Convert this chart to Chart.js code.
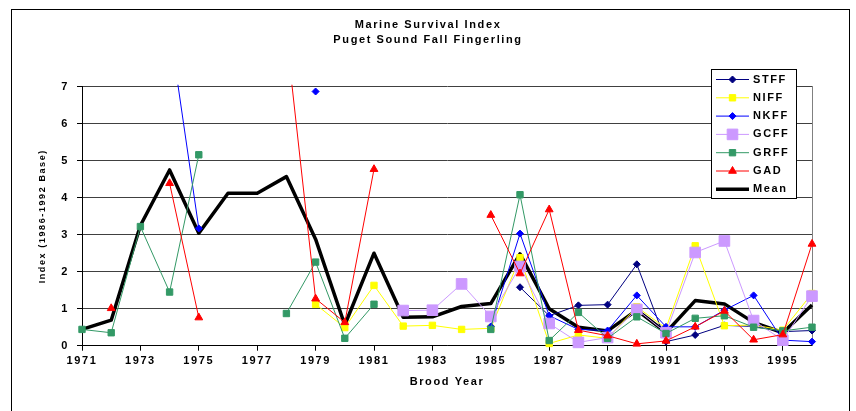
<!DOCTYPE html>
<html>
<head>
<meta charset="utf-8">
<title>Marine Survival Index</title>
<script src="https://cdn.jsdelivr.net/npm/chart.js@4/dist/chart.umd.min.js"></script>
<style>
body { margin: 0; background: #fff; }
canvas { display: block; }
</style>
</head>
<body>
<canvas id="chart" width="856" height="411"></canvas>
<script>
var years = ["1971","1972","1973","1974","1975","1976","1977","1978","1979","1980","1981","1982","1983",
             "1984","1985","1986","1987","1988","1989","1990","1991","1992","1993","1994","1995","1996"];
var xTickLabels = ["1971","1973","1975","1977","1979","1981","1983","1985","1987","1989","1991","1993","1995"];
var yTicks = [0, 1, 2, 3, 4, 5, 6, 7];
var titleLines = ["Marine Survival Index", "Puget Sound Fall Fingerling"];

var stff = [null,null,null,null,null,null,null,null,null,null,null,null,null,null,null,
            1.58,0.81,1.09,1.11,2.2,0.11,0.29,0.55,0.52,0.38,0.41];
var niff = [null,null,null,null,null,null,null,null,
            1.12,0.49,1.63,0.53,0.55,0.44,0.47,2.38,0.06,0.29,0.2,1.05,0.47,2.7,0.54,0.56,0.42,1.41];
var nkff = [null,null,null,8.6,3.17,null,null,null,6.87,null,null,null,null,null,
            0.52,3.03,0.81,0.44,0.41,1.36,0.51,0.51,0.96,1.36,0.15,0.11];
var gcff = [null,null,null,null,null,null,null,null,null,null,null,
            0.95,0.96,1.67,0.79,2.14,0.6,0.09,0.22,0.98,0.35,2.52,2.83,0.68,0.15,1.34];
var grff = [0.44,0.35,3.22,1.45,5.16,null,null,0.87,2.26,0.2,1.12,null,null,null,
            0.44,4.08,0.14,0.9,0.2,0.78,0.33,0.74,0.81,0.5,0.4,0.5];
var gad  = [null,1.01,null,4.39,0.76,null,null,8.4,1.27,0.63,4.77,null,null,null,
            3.53,1.95,3.68,0.42,0.27,0.05,0.13,0.51,0.94,0.16,0.3,2.75];
var mean = [0.44,0.69,3.25,4.75,3.04,4.12,4.12,4.57,2.88,0.56,2.5,0.77,0.78,1.06,1.14,
            2.48,1.0,0.5,0.4,0.96,0.36,1.22,1.13,0.63,0.35,1.1];

var font = "Arial, 'Liberation Sans', sans-serif";
var spacing = "1.6px";
Chart.defaults.font.family = font;
Chart.defaults.color = "#000";

function series(label, data, color, style, radius, order) {
  return {
    label: label,
    data: data,
    borderColor: color,
    borderWidth: 1,
    pointStyle: style,
    pointRadius: radius,
    pointBackgroundColor: color,
    pointBorderColor: color,
    pointBorderWidth: 1,
    tension: 0,
    spanGaps: false,
    clip: {left: 12, top: 2, right: 12, bottom: 12},
    order: order
  };
}

// same shapes as chart.js uses for its points, for the legend box
function marker(ctx, style, r, x, y) {
  ctx.beginPath();
  if (style == "rect") {
    var s = r * Math.SQRT1_2;
    ctx.rect(x - s, y - s, 2 * s, 2 * s);
  } else if (style == "rectRot") {
    ctx.moveTo(x - r, y); ctx.lineTo(x, y - r); ctx.lineTo(x + r, y); ctx.lineTo(x, y + r);
    ctx.closePath();
  } else if (style == "triangle") {
    for (var k = 0; k < 3; k++) {
      var a = k * 2 * Math.PI / 3;
      if (k == 0) ctx.moveTo(x + Math.sin(a) * r, y - Math.cos(a) * r);
      else ctx.lineTo(x + Math.sin(a) * r, y - Math.cos(a) * r);
    }
    ctx.closePath();
  }
  ctx.fill();
  ctx.stroke();
}

var frame = {
  id: "frame",
  beforeDraw: function(chart) {
    var ctx = chart.ctx;
    ctx.save();
    ctx.fillStyle = "#fff";
    ctx.fillRect(0, 0, chart.width, chart.height);
    ctx.strokeStyle = "#000";
    ctx.lineWidth = 1;
    ctx.strokeRect(11.5, 9.5, 838, 440);
    ctx.restore();
    ctx.letterSpacing = spacing;
  },
  afterDraw: function(chart) {
    var ctx = chart.ctx;
    ctx.save();
    ctx.letterSpacing = spacing;
    ctx.fillStyle = "#fff";
    ctx.strokeStyle = "#000";
    ctx.lineWidth = 1;
    ctx.fillRect(711.5, 69.5, 85, 129);
    ctx.strokeRect(711.5, 69.5, 85, 129);
    chart.data.datasets.forEach(function(ds, i) {
      var y = 79.5 + i * 18.3;
      ctx.strokeStyle = ds.borderColor;
      ctx.lineWidth = ds.borderWidth;
      ctx.beginPath();
      ctx.moveTo(716, y);
      ctx.lineTo(749, y);
      ctx.stroke();
      if (ds.pointRadius > 0) {
        ctx.fillStyle = ds.pointBackgroundColor;
        ctx.strokeStyle = ds.pointBorderColor;
        ctx.lineWidth = 1;
        marker(ctx, ds.pointStyle, ds.pointRadius, 732.5, y);
      }
      ctx.fillStyle = "#000";
      ctx.font = "bold 11px " + font;
      ctx.textAlign = "left";
      ctx.textBaseline = "middle";
      ctx.fillText(ds.label, 753, y);
    });
    ctx.restore();
  }
};

var meanSet = series("Mean", mean, "#000000", "circle", 0, 7);
meanSet.borderWidth = 3.5;
meanSet.borderJoinStyle = "round";

new Chart(document.getElementById("chart"), {
  type: "line",
  data: {
    labels: years,
    datasets: [
      series("STFF", stff, "#000080", "rectRot", 3.5, 6),
      series("NIFF", niff, "#ffff00", "rect", 4.5, 5),
      series("NKFF", nkff, "#0000ff", "rectRot", 3.5, 4),
      series("GCFF", gcff, "#cc99ff", "rect", 7.5, 3),
      series("GRFF", grff, "#339966", "rect", 4.5, 2),
      series("GAD", gad, "#ff0000", "triangle", 4.5, 1),
      meanSet
    ]
  },
  options: {
    responsive: false,
    animation: false,
    devicePixelRatio: 1,
    layout: {padding: {left: 12, right: 12, top: 10, bottom: 0}},
    plugins: {
      legend: {display: false},
      tooltip: {enabled: false},
      title: {
        display: true,
        text: titleLines,
        color: "#000",
        font: {size: 11, weight: "bold", lineHeight: "15px"},
        padding: {top: 7, bottom: 39.7}
      }
    },
    scales: {
      x: {
        type: "category",
        offset: false,
        grid: {
          drawOnChartArea: false,
          drawTicks: true,
          tickLength: 5,
          tickColor: function(c) {
            return xTickLabels.indexOf(years[c.index]) >= 0 ? "#000" : "rgba(0,0,0,0)";
          }
        },
        border: {display: true, color: "#000", width: 1},
        ticks: {
          autoSkip: false,
          maxRotation: 0,
          minRotation: 0,
          padding: 4,
          color: "#000",
          font: {size: 11, weight: "bold"},
          callback: function(v, i) {
            return xTickLabels.indexOf(years[i]) >= 0 ? years[i] : "";
          }
        },
        title: {
          display: true,
          text: "Brood Year",
          color: "#000",
          font: {size: 11, weight: "bold"},
          padding: {top: 4, bottom: 22}
        },
        afterFit: function(s) { s.height = 65.3; }
      },
      y: {
        min: yTicks[0],
        max: yTicks[yTicks.length - 1],
        afterBuildTicks: function(s) {
          s.ticks = yTicks.map(function(v) { return {value: v}; });
        },
        grid: {color: "#404040", lineWidth: 1, tickLength: 5, tickColor: "#000"},
        border: {display: true, color: "#000", width: 1},
        ticks: {color: "#000", padding: 8, font: {size: 11, weight: "bold"}},
        title: {
          display: true,
          text: "Index (1986-1992 Base)",
          color: "#000",
          font: {size: 9, weight: "bold"},
          padding: {top: 25, bottom: 0}
        },
        afterFit: function(s) { s.width = 70; }
      },
      y2: {
        position: "right",
        min: yTicks[0],
        max: yTicks[yTicks.length - 1],
        grid: {display: false},
        ticks: {display: false},
        border: {display: true, color: "#808080", width: 1},
        afterFit: function(s) { s.width = 32; }
      }
    }
  },
  plugins: [frame]
});
</script>
</body>
</html>
